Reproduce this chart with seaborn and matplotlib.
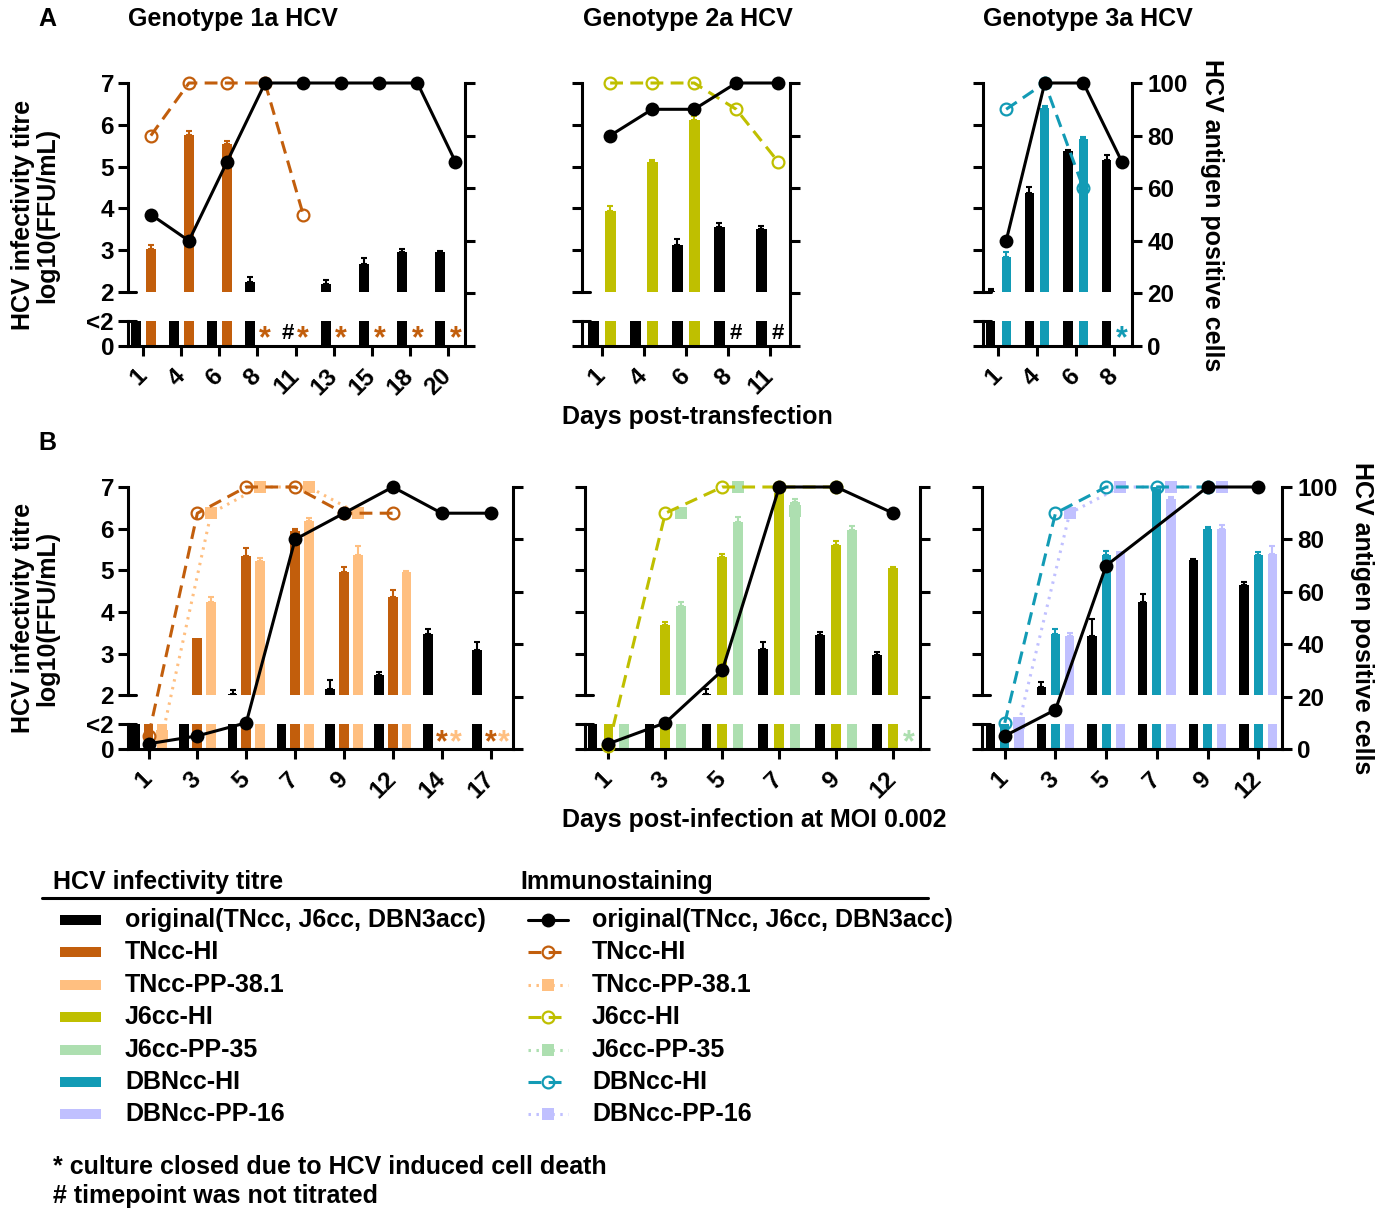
import numpy as np
import matplotlib
matplotlib.use('Agg')
import matplotlib.pyplot as plt
import matplotlib.transforms as mtransforms
from matplotlib.patches import Rectangle
import seaborn as sns

# ---------------- data ----------------
nan = np.nan
LOD = 1.0   # below detection limit, drawn as "<2"

# Genotype 1a, transfection
days_A1 = [1, 4, 6, 8, 11, 13, 15, 18, 20]
tit_A1_orig = [LOD, LOD, LOD, 2.23, nan, 2.20, 2.68, 2.96, 2.97]
err_A1_orig = [0, 0, 0, 0.14, 0, 0.09, 0.13, 0.08, 0.02]
tit_A1_hi = [3.04, 5.75, 5.55, nan, nan, nan, nan, nan, nan]
err_A1_hi = [0.09, 0.11, 0.07, 0, 0, 0, 0, 0, 0]
pos_A1_orig = [50, 40, 70, 100, 100, 100, 100, 100, 70]
pos_A1_hi = [80, 100, 100, 100, 50, nan, nan, nan, nan]
note_A1_orig = ['', '', '', '', '#', '', '', '', '']
note_A1_hi = ['', '', '', '*', '*', '*', '*', '*', '*']

# Genotype 2a, transfection
days_A2 = [1, 4, 6, 8, 11]
tit_A2_orig = [LOD, LOD, 3.12, 3.56, 3.52]
err_A2_orig = [0, 0, 0.14, 0.09, 0.05]
tit_A2_hi = [3.94, 5.10, 6.12, nan, nan]
err_A2_hi = [0.12, 0.07, 0.09, 0, 0]
pos_A2_orig = [80, 90, 90, 100, 100]
pos_A2_hi = [100, 100, 100, 90, 70]
note_A2_hi = ['', '', '', '#', '#']

# Genotype 3a, transfection
days_A3 = [1, 4, 6, 8]
tit_A3_orig = [2.02, 4.36, 5.37, 5.17]
err_A3_orig = [0.05, 0.15, 0.02, 0.10]
tit_A3_hi = [2.85, 6.40, 5.67, nan]
err_A3_hi = [0.12, 0.05, 0.04, 0]
pos_A3_orig = [40, 100, 100, 70]
pos_A3_hi = [90, 100, 60, nan]
note_A3_hi = ['', '', '', '*']

# Genotype 1a, infection
days_B1 = [1, 3, 5, 7, 9, 12, 14, 17]
tit_B1_orig = [LOD, LOD, 2.02, LOD, 2.16, 2.48, 3.46, 3.08]
err_B1_orig = [0, 0, 0.10, 0, 0.20, 0.09, 0.13, 0.19]
tit_B1_hi = [LOD, 3.38, 5.35, 5.94, 4.97, 4.36, nan, nan]
err_B1_hi = [0, 0, 0.19, 0.06, 0.10, 0.16, 0, 0]
tit_B1_pp = [LOD, 4.23, 5.23, 6.18, 5.37, 4.95, nan, nan]
err_B1_pp = [0, 0.14, 0.06, 0.08, 0.21, 0.04, 0, 0]
pos_B1_orig = [2, 5, 10, 80, 90, 100, 90, 90]
pos_B1_hi = [5, 90, 100, 100, 90, 90, nan, nan]
pos_B1_pp = [5, 90, 100, 100, 90, nan, nan, nan]
note_B1_hi = ['', '', '', '', '', '', '*', '*']
note_B1_pp = ['', '', '', '', '', '', '*', '*']

# Genotype 2a, infection
days_B2 = [1, 3, 5, 7, 9, 12]
tit_B2_orig = [LOD, LOD, 2.02, 3.12, 3.44, 2.96]
err_B2_orig = [0, 0, 0.13, 0.16, 0.09, 0.09]
tit_B2_hi = [LOD, 3.69, 5.33, 6.86, 5.60, 5.06]
err_B2_hi = [0, 0.06, 0.06, 0.05, 0.10, 0.03]
tit_B2_pp = [LOD, 4.15, 6.17, 6.63, 5.96, nan]
err_B2_pp = [0, 0.08, 0.11, 0.07, 0.10, 0]
pos_B2_orig = [2, 10, 30, 100, 100, 90]
pos_B2_hi = [1, 90, 100, 100, 100, nan]
pos_B2_pp = [nan, 90, 100, 91, nan, nan]
note_B2_pp = ['', '', '', '', '', '*']

# Genotype 3a, infection
days_B3 = [1, 3, 5, 7, 9, 12]
tit_B3_orig = [LOD, 2.21, 3.42, 4.25, 5.24, 4.64]
err_B3_orig = [0, 0.10, 0.42, 0.18, 0.03, 0.08]
tit_B3_hi = [LOD, 3.48, 5.36, 7.00, 6.00, 5.36]
err_B3_hi = [0, 0.12, 0.11, 0, 0.04, 0.07]
tit_B3_pp = [LOD, 3.42, 5.47, 6.70, 6.00, 5.40]
err_B3_pp = [0, 0.08, 0, 0.07, 0.08, 0.18]
pos_B3_orig = [5, 15, 70, nan, 100, 100]
pos_B3_hi = [10, 90, 100, 100, 100, nan]
pos_B3_pp = [10, 90, 100, 100, 100, nan]

# colours
C_ORIG = '#000000'
C_TN_HI = '#c25e0c'
C_TN_PP = '#ffbf80'
C_J6_HI = '#bfbf00'
C_J6_PP = '#addfb0'
C_DB_HI = '#129bb5'
C_DB_PP = '#c0c0ff'

legend_names = ['original(TNcc, J6cc, DBN3acc)', 'TNcc-HI', 'TNcc-PP-38.1',
                'J6cc-HI', 'J6cc-PP-35', 'DBNcc-HI', 'DBNcc-PP-16']
legend_colors = [C_ORIG, C_TN_HI, C_TN_PP, C_J6_HI, C_J6_PP, C_DB_HI, C_DB_PP]
legend_kinds = ['orig', 'hi', 'pp', 'hi', 'pp', 'hi', 'pp']

# ---------------- style ----------------
sns.set_theme(style='white', rc={'axes.linewidth': 2.2, 'axes.edgecolor': 'black',
                                 'xtick.color': 'black', 'ytick.color': 'black',
                                 'text.color': 'black'})
plt.rcParams['font.family'] = ['Liberation Sans', 'DejaVu Sans']
plt.rcParams['font.weight'] = 'bold'

W, H = 1387, 1210
fig = plt.figure(figsize=(W / 100, H / 100), dpi=100)

YB, YL = 0.71, 1.31   # bottom of axis ("0") and "<2" level, in log units
LW = 2.2
TICK_FS = 17.5
TXT_FS = 18

LINE_STYLE = {
    'orig': dict(linestyle='-', marker='o', markersize=10, markerfacecolor=None, markeredgewidth=0),
    'hi': dict(linestyle=(0, (4.2, 2.4)), marker='o', markersize=8.5, markerfacecolor='none',
               markeredgewidth=1.6),
    'pp': dict(linestyle=(0, (0.8, 1.8)), marker='s', markersize=8.5, markerfacecolor=None,
               markeredgewidth=0),
    'ppm': dict(linestyle='none', marker='s', markersize=8.5, markerfacecolor=None,
                markeredgewidth=0),
}


def styled(kind, color):
    kw = dict(LINE_STYLE[kind])
    if kw['markerfacecolor'] is None:
        kw['markerfacecolor'] = color
    kw['markeredgecolor'] = color
    return kw


ov = fig.add_axes([0, 0, 1, 1])
ov.set_xlim(0, W)
ov.set_ylim(H, 0)
ov.axis('off')


def panel(box, xpad, days, bars, lines, left_lab, right_lab, width):
    l, r, t, b = box
    ax = fig.add_axes([l / W, 1 - b / H, (r - l) / W, (b - t) / H])
    n = len(days)
    idx = np.arange(n)
    ax.set_xlim(xpad[0], n - 1 + xpad[1])
    ax.set_ylim(YB, 7)

    for vals, errs, notes, color, off in bars:
        for i in range(n):
            x = i + off
            v = vals[i]
            if notes is not None and notes[i]:
                ncol = 'black' if notes[i] == '#' else color
                fs = 16 if notes[i] == '#' else 22
                yy = 1.0 if notes[i] == '#' else 0.86
                ax.text(x, yy, notes[i], color=ncol, fontsize=fs, ha='center', va='center')
            if np.isnan(v):
                continue
            ax.bar(x, YL - YB, bottom=YB, width=width, color=color, linewidth=0)
            if v >= 2:
                ax.bar(x, v - 2, bottom=2, width=width, color=color, linewidth=0)
                if errs[i] > 0:
                    ax.errorbar(x, v, yerr=[[0], [errs[i]]], fmt='none', ecolor=color,
                                elinewidth=1.5, capsize=2.5, capthick=1.5)

    # broken left axis
    for s in ['top', 'right']:
        ax.spines[s].set_visible(False)
    ax.spines['left'].set_bounds(2, 7)
    axw = r - l
    tr = mtransforms.blended_transform_factory(ax.transAxes, ax.transData)
    ax.plot([0, 0], [YB, YL], color='black', lw=LW, transform=tr, clip_on=False,
            solid_capstyle='projecting')
    for yy in (2, YL):
        ax.plot([0, 8 / axw], [yy, yy], color='black', lw=LW, transform=tr, clip_on=False)
    ax.set_yticks([YB, YL, 2, 3, 4, 5, 6, 7])
    ax.set_yticklabels(['0', '<2', '2', '3', '4', '5', '6', '7'] if left_lab else [])
    ax.tick_params(axis='y', left=True, length=7, width=LW, labelsize=TICK_FS, pad=3)
    ax.set_xticks(idx)
    ax.set_xticklabels([str(d) for d in days], rotation=45, ha='right', va='center',
                       rotation_mode='anchor')
    ax.tick_params(axis='x', bottom=True, length=7, width=LW, labelsize=TICK_FS, pad=12)

    # right axis: % antigen positive cells
    tw = ax.twinx()
    tw.set_ylim(0, 100)
    for s in ['top', 'left', 'bottom']:
        tw.spines[s].set_visible(False)
    tw.spines['right'].set_linewidth(LW)
    tw.set_yticks([0, 20, 40, 60, 80, 100])
    if not right_lab:
        tw.set_yticklabels([])
    tw.tick_params(axis='y', right=True, length=7, width=LW, labelsize=TICK_FS, pad=4)
    for vals, kind, color, off in lines:
        sns.lineplot(x=idx + off, y=np.array(vals, dtype=float), ax=tw, color=color,
                     linewidth=LW, estimator=None, sort=False, clip_on=False,
                     **styled(kind, color))
    tw.set_xlim(ax.get_xlim())
    tw.set_ylabel('')
    return ax


# Row A
panel((128, 465, 83, 346), (-0.4, 0.45), days_A1,
      [(tit_A1_orig, err_A1_orig, note_A1_orig, C_ORIG, -0.2),
       (tit_A1_hi, err_A1_hi, note_A1_hi, C_TN_HI, 0.2)],
      [(pos_A1_hi, 'hi', C_TN_HI, 0.2), (pos_A1_orig, 'orig', C_ORIG, 0.2)],
      True, False, 0.26)
panel((582, 790, 83, 346), (-0.47, 0.48), days_A2,
      [(tit_A2_orig, err_A2_orig, None, C_ORIG, -0.2),
       (tit_A2_hi, err_A2_hi, note_A2_hi, C_J6_HI, 0.2)],
      [(pos_A2_hi, 'hi', C_J6_HI, 0.2), (pos_A2_orig, 'orig', C_ORIG, 0.2)],
      False, False, 0.26)
panel((983, 1132, 83, 346), (-0.4, 0.46), days_A3,
      [(tit_A3_orig, err_A3_orig, None, C_ORIG, -0.2),
       (tit_A3_hi, err_A3_hi, note_A3_hi, C_DB_HI, 0.2)],
      [(pos_A3_hi, 'hi', C_DB_HI, 0.2), (pos_A3_orig, 'orig', C_ORIG, 0.2)],
      False, True, 0.24)

# Row B
panel((128, 513, 487, 749), (-0.42, 0.46), days_B1,
      [(tit_B1_orig, err_B1_orig, None, C_ORIG, -0.28),
       (tit_B1_hi, err_B1_hi, note_B1_hi, C_TN_HI, 0.0),
       (tit_B1_pp, err_B1_pp, note_B1_pp, C_TN_PP, 0.28)],
      [(pos_B1_pp, 'pp', C_TN_PP, 0.28), (pos_B1_hi, 'hi', C_TN_HI, 0.0),
       (pos_B1_orig, 'orig', C_ORIG, 0.0)],
      True, False, 0.2)
panel((585, 920, 487, 749), (-0.41, 0.47), days_B2,
      [(tit_B2_orig, err_B2_orig, None, C_ORIG, -0.28),
       (tit_B2_hi, err_B2_hi, None, C_J6_HI, 0.0),
       (tit_B2_pp, err_B2_pp, note_B2_pp, C_J6_PP, 0.28)],
      [(pos_B2_pp, 'ppm', C_J6_PP, 0.28), (pos_B2_hi, 'hi', C_J6_HI, 0.0),
       (pos_B2_orig, 'orig', C_ORIG, 0.0)],
      False, False, 0.17)
panel((982, 1282, 487, 749), (-0.45, 0.47), days_B3,
      [(tit_B3_orig, err_B3_orig, None, C_ORIG, -0.28),
       (tit_B3_hi, err_B3_hi, None, C_DB_HI, 0.0),
       (tit_B3_pp, err_B3_pp, None, C_DB_PP, 0.28)],
      [(pos_B3_pp, 'pp', C_DB_PP, 0.28), (pos_B3_hi, 'hi', C_DB_HI, 0.0),
       (pos_B3_orig, 'orig', C_ORIG, 0.0)],
      False, True, 0.18)

# ---------------- figure texts ----------------
ov.text(38, 19, 'A', fontsize=TXT_FS, ha='left', va='center')
ov.text(38, 443, 'B', fontsize=TXT_FS, ha='left', va='center')
for x, s in [(128, 'Genotype 1a HCV'), (583, 'Genotype 2a HCV'), (983, 'Genotype 3a HCV')]:
    ov.text(x, 19, s, fontsize=TXT_FS, ha='left', va='center')
ov.text(562, 417, 'Days post-transfection', fontsize=TXT_FS, ha='left', va='center')
ov.text(562, 820, 'Days post-infection at MOI 0.002', fontsize=TXT_FS, ha='left', va='center')
for y in (215, 618):
    ov.text(35, y, 'HCV infectivity titre\nlog10(FFU/mL)', fontsize=TXT_FS, rotation=90,
            ha='center', va='center', multialignment='center', linespacing=1.05)
ov.text(1212, 215, 'HCV antigen positive cells', fontsize=TXT_FS, rotation=270,
        ha='center', va='center')
ov.text(1362, 618, 'HCV antigen positive cells', fontsize=TXT_FS, rotation=270,
        ha='center', va='center')

# ---------------- legend ----------------
ov.text(53, 882, 'HCV infectivity titre', fontsize=TXT_FS, ha='left', va='center')
ov.text(520, 882, 'Immunostaining', fontsize=TXT_FS, ha='left', va='center')
ov.plot([42, 928], [898, 898], color='black', lw=LW)
for k, (name, col, kind) in enumerate(zip(legend_names, legend_colors, legend_kinds)):
    y = 920 + k * 32.4
    ov.add_patch(Rectangle((60, y - 5), 41, 10, color=col, lw=0))
    ov.text(125, y, name, fontsize=TXT_FS, ha='left', va='center')
    kw = styled(kind, col)
    ov.plot([528, 568], [y, y], color=col, lw=LW, linestyle=kw['linestyle'])
    ov.plot([548], [y], color=col, linestyle='none', marker=kw['marker'],
            markersize=kw['markersize'], markerfacecolor=kw['markerfacecolor'],
            markeredgecolor=col, markeredgewidth=kw['markeredgewidth'])
    ov.text(592, y, name, fontsize=TXT_FS, ha='left', va='center')

ov.text(53, 1167, '* culture closed due to HCV induced cell death', fontsize=TXT_FS,
        ha='left', va='center')
ov.text(53, 1196, '# timepoint was not titrated', fontsize=TXT_FS, ha='left', va='center')

fig.savefig('out.png', dpi=100)
